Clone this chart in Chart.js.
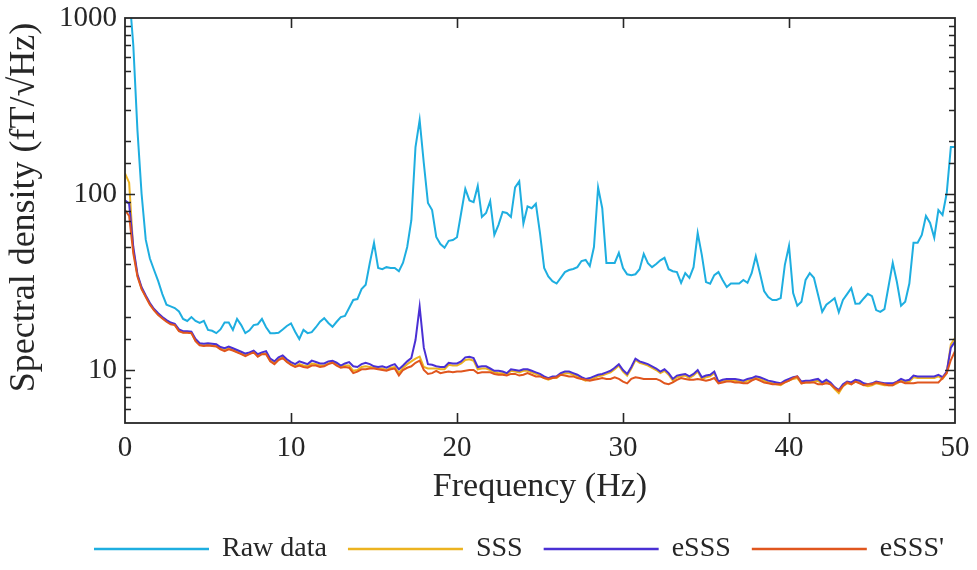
<!DOCTYPE html>
<html>
<head>
<meta charset="utf-8">
<script src="https://cdn.jsdelivr.net/npm/chart.js@4/dist/chart.umd.min.js"></script>
<style>
  html, body { margin: 0; padding: 0; background: #fff; }
  #wrap { width: 977px; height: 570px; }
</style>
</head>
<body>
<div id="wrap"><canvas id="psd" width="977" height="570"></canvas></div>
<script>
(function () {
  "use strict";

  // spectrum bins are 0.25 Hz apart, 0 .. 50 Hz
  const FREQ_STEP = 0.25;

  const seriesNames = ["Raw data", "SSS", "eSSS", "eSSS'"];
  const seriesColors = ["#1eaee0", "#ecb320", "#4a30d4", "#e0561e"];
  const xTickValues = [0, 10, 20, 30, 40, 50];
  const yTickLabels = [10, 100, 1000];
  const yTitle = "Spectral density (fT/\u221AHz)";

  const rawData = [
    3000, 1400, 700, 230, 100, 55, 43, 37, 32, 27, 23.5, 23, 22.5, 21.5, 19.5, 19, 20, 19, 18.5, 19,
    16.9, 16.7, 16.2, 17, 18.6, 18.6, 16.9, 19.5, 18, 16.2, 16.8, 18, 18.2, 19.5, 17.5, 16.2, 16.2, 16.3, 17, 17.8,
    18.4, 16.5, 15, 16.9, 16.2, 16.4, 17.5, 18.8, 19.7, 18.5, 17.6, 18.8, 20, 20.3, 22.5, 25, 25.3, 28.8, 30.5, 40.7,
    52.8, 38, 37.4, 38.4, 38, 38, 36.4, 40.7, 50, 71, 185, 263, 150, 89, 81, 57, 52, 49.5, 54.2, 54.8,
    56.8, 78, 107, 92, 90, 111, 74, 78, 91, 58.6, 66.8, 79, 78, 74, 109, 118, 68, 85, 83, 88,
    60, 38, 34, 32, 31, 33.4, 36, 37, 37.5, 38.4, 41.6, 42.2, 39, 50, 109, 83, 40.6, 40.6, 40.6, 46.3,
    38, 35, 34.6, 35, 37.4, 45.7, 40.5, 38.4, 40, 42, 43.4, 37.4, 36.4, 36, 31.3, 35.5, 33.4, 38.4, 60, 45,
    31.6, 30.9, 34.6, 36, 32.5, 29.6, 31, 31, 31, 32.5, 31.3, 35.5, 44.3, 35.5, 28.1, 26, 25, 25, 25.6, 39.6,
    50.7, 27.4, 23.2, 24.4, 32.5, 35.5, 33.4, 26.8, 21.4, 23.5, 24.5, 25.6, 21.3, 25, 27, 29.2, 23.8, 23.9, 25.5, 27.1,
    26.3, 21.9, 21.4, 22.2, 30, 40.6, 31.6, 23.2, 24.4, 31, 52.8, 52.8, 58.6, 75, 68.5, 56.5, 81, 76, 101, 185,
    185
  ];

  const sssData = [
    131, 116, 48, 34.5, 29, 26.2, 23.7, 22, 20.7, 19.8, 19.0, 18.4, 18.1, 16.7, 16.4, 16.4, 16.3, 14.7, 13.9, 13.8,
    13.9, 13.8, 13.7, 13.2, 13.0, 13.3, 13.0, 12.7, 12.4, 12.1, 12.4, 12.7, 12.0, 12.4, 12.4, 11.3, 10.9, 11.5, 11.8, 11.2,
    10.8, 10.5, 10.8, 10.6, 10.5, 10.9, 10.8, 10.6, 10.6, 10.9, 11.1, 10.8, 10.4, 10.6, 10.6, 9.9, 10.0, 10.4, 10.5, 10.4,
    10.3, 10.2, 10.2, 10.0, 10.3, 10.4, 9.6, 10.3, 10.8, 11.2, 11.6, 11.9, 10.4, 10.2, 10.2, 10.2, 10.1, 10.1, 10.7, 10.6,
    10.6, 10.9, 11.4, 11.5, 11.3, 10.1, 10.2, 10.2, 10.0, 9.7, 9.6, 9.6, 9.4, 9.9, 9.8, 9.7, 9.9, 9.9, 9.7, 9.5,
    9.3, 9.0, 8.8, 9.0, 9.0, 9.4, 9.6, 9.6, 9.4, 9.2, 8.9, 8.7, 8.8, 9.0, 9.2, 9.3, 9.5, 9.7, 10.1, 10.6,
    9.8, 9.3, 10.2, 11.4, 11.0, 10.8, 10.6, 10.3, 10.0, 9.6, 9.9, 9.4, 8.7, 9.1, 9.2, 9.3, 9.0, 9.3, 9.8, 8.9,
    9.1, 9.2, 9.6, 8.5, 8.6, 8.7, 8.7, 8.7, 8.6, 8.5, 8.7, 8.8, 9.0, 8.9, 8.7, 8.5, 8.4, 8.3, 8.2, 8.5,
    8.7, 8.9, 9.0, 8.4, 8.5, 8.5, 8.6, 8.7, 8.3, 8.6, 8.3, 7.8, 7.4, 8.1, 8.4, 8.3, 8.6, 8.5, 8.2, 8.1,
    8.2, 8.4, 8.3, 8.2, 8.2, 8.2, 8.4, 8.7, 8.5, 8.6, 9.1, 9.0, 9.0, 9.0, 9.0, 9.0, 9.2, 8.9, 9.6, 14.0,
    15.2
  ];

  const esssData = [
    92, 88, 50, 35, 29.5, 26.5, 24, 22.2, 21, 20, 19.2, 18.6, 18.3, 17, 16.6, 16.6, 16.5, 15, 14.2, 14.1,
    14.2, 14.1, 14.0, 13.5, 13.3, 13.6, 13.3, 13.0, 12.7, 12.4, 12.6, 12.9, 12.3, 12.6, 12.8, 11.6, 11.2, 11.8, 12.1, 11.5,
    11.1, 10.8, 11.2, 11.0, 10.8, 11.3, 11.1, 10.9, 10.9, 11.2, 11.3, 11.0, 10.6, 10.9, 11.1, 10.5, 10.4, 10.8, 11.0, 10.8,
    10.5, 10.4, 10.5, 10.3, 10.6, 10.8, 10.1, 10.6, 11.2, 11.7, 14.8, 22.9, 13.4, 10.8, 10.7, 10.5, 10.4, 10.4, 11.0, 10.9,
    10.9, 11.2, 11.8, 11.9, 11.7, 10.4, 10.5, 10.5, 10.2, 9.9, 9.9, 9.8, 9.6, 10.1, 10.0, 9.9, 10.1, 10.1, 9.9, 9.7,
    9.5, 9.2, 9.0, 9.2, 9.2, 9.6, 9.8, 9.8, 9.6, 9.4, 9.1, 8.9, 9.0, 9.2, 9.4, 9.5, 9.7, 9.9, 10.3, 10.8,
    10.0, 9.5, 10.4, 11.6, 11.2, 11.0, 10.8, 10.5, 10.2, 9.8, 10.1, 9.6, 8.9, 9.3, 9.4, 9.5, 9.2, 9.5, 10.0, 9.1,
    9.3, 9.4, 9.8, 8.6, 8.8, 8.9, 8.9, 8.9, 8.8, 8.7, 8.9, 9.0, 9.2, 9.1, 8.9, 8.7, 8.6, 8.5, 8.4, 8.7,
    8.9, 9.1, 9.2, 8.6, 8.7, 8.7, 8.8, 8.9, 8.5, 8.8, 8.5, 8.0, 7.7, 8.3, 8.6, 8.5, 8.8, 8.7, 8.4, 8.3,
    8.4, 8.6, 8.5, 8.4, 8.4, 8.4, 8.6, 8.9, 8.7, 8.8, 9.3, 9.2, 9.2, 9.2, 9.2, 9.2, 9.4, 9.1, 9.8, 13.4,
    14.5
  ];

  const esssPrimeData = [
    81, 75, 46, 34, 28.8, 26, 23.5, 21.8, 20.5, 19.6, 18.8, 18.2, 18.0, 16.6, 16.3, 16.3, 16.2, 14.6, 13.8, 13.7,
    13.8, 13.7, 13.6, 13.1, 12.8, 13.1, 12.9, 12.6, 12.3, 12.0, 12.3, 12.6, 11.9, 12.3, 12.3, 11.2, 10.8, 11.4, 11.7, 11.1,
    10.7, 10.4, 10.6, 10.4, 10.3, 10.6, 10.6, 10.4, 10.5, 10.8, 11.0, 10.6, 10.3, 10.4, 10.3, 9.6, 9.8, 10.1, 10.1, 10.2,
    10.2, 10.1, 10.0, 9.9, 10.1, 10.2, 9.3, 10.0, 10.3, 10.5, 11.0, 11.3, 10.0, 9.5, 9.6, 9.9, 9.6, 9.7, 9.8, 9.7,
    9.8, 9.8, 9.9, 10.0, 10.0, 9.6, 9.7, 9.7, 9.7, 9.5, 9.4, 9.4, 9.3, 9.5, 9.5, 9.3, 9.4, 9.6, 9.4, 9.2,
    9.2, 9.0, 8.9, 9.0, 9.1, 9.4, 9.3, 9.2, 9.2, 9.0, 8.9, 8.8, 8.7, 8.8, 8.9, 9.0, 8.9, 8.9, 9.1, 8.9,
    8.6, 8.4, 8.9, 9.1, 9.0, 8.9, 8.9, 8.9, 8.9, 8.7, 8.4, 8.3, 8.5, 8.8, 9.0, 8.9, 8.8, 8.8, 8.9, 8.8,
    8.7, 8.8, 9.0, 8.4, 8.5, 8.6, 8.6, 8.5, 8.5, 8.4, 8.4, 8.7, 8.9, 8.7, 8.5, 8.4, 8.3, 8.3, 8.3, 8.5,
    8.7, 9.0, 9.2, 8.4, 8.5, 8.5, 8.5, 8.3, 8.3, 8.4, 8.3, 7.9, 7.6, 8.1, 8.5, 8.3, 8.6, 8.4, 8.2, 8.3,
    8.3, 8.5, 8.4, 8.3, 8.2, 8.2, 8.5, 8.6, 8.4, 8.4, 8.4, 8.5, 8.5, 8.5, 8.5, 8.5, 8.5, 9.0, 9.6, 11.4,
    12.8
  ];

  const FONT = "'Liberation Serif', 'Times New Roman', serif";
  const INK = "#262626";

  const freqs = rawData.map((_, i) => i * FREQ_STEP);
  const allSeries = [rawData, sssData, esssData, esssPrimeData];

  function toPoints(values) {
    return values.map((v, i) => ({ x: freqs[i], y: v }));
  }

  // MATLAB-style box with inward ticks on all four sides
  const frameTicks = {
    id: "frameTicks",
    afterDatasetsDraw(chart) {
      const { ctx, chartArea: a, scales } = chart;
      const x = scales.x;
      const y = scales.y;
      ctx.save();
      ctx.strokeStyle = INK;
      ctx.lineWidth = 1.6;
      ctx.beginPath();
      xTickValues.forEach((v) => {
        if (v <= x.min || v >= x.max) return;
        const px = Math.round(x.getPixelForValue(v)) + 0.5;
        ctx.moveTo(px, a.bottom);
        ctx.lineTo(px, a.bottom - 10);
        ctx.moveTo(px, a.top);
        ctx.lineTo(px, a.top + 10);
      });
      y.ticks.forEach((t) => {
        if (t.value <= y.min || t.value >= y.max) return;
        const len = yTickLabels.includes(t.value) ? 10 : 6;
        const py = Math.round(y.getPixelForValue(t.value)) + 0.5;
        ctx.moveTo(a.left, py);
        ctx.lineTo(a.left + len, py);
        ctx.moveTo(a.right, py);
        ctx.lineTo(a.right - len, py);
      });
      ctx.stroke();
      ctx.lineWidth = 1.8;
      ctx.strokeRect(a.left, a.top, a.right - a.left, a.bottom - a.top);

      // rotated y title, sitting a little above the plot's mid-height like the source
      ctx.font = `36px ${FONT}`;
      ctx.fillStyle = INK;
      ctx.textAlign = "center";
      ctx.textBaseline = "middle";
      ctx.translate(25, (a.top + a.bottom) / 2 - 13);
      ctx.rotate(-Math.PI / 2);
      ctx.fillText(yTitle, 0, 0);
      ctx.restore();
    },
  };

  // legend row under the axis title, line swatches like the original figure
  const lineLegend = {
    id: "lineLegend",
    afterDraw(chart) {
      const { ctx } = chart;
      const swatch = 115;
      const gapText = 13;
      const gapItem = 21;
      const yMid = 549;
      ctx.save();
      ctx.font = `28px ${FONT}`;
      ctx.textBaseline = "middle";
      ctx.textAlign = "left";
      let total = 0;
      seriesNames.forEach((name, i) => {
        total += swatch + gapText + ctx.measureText(name).width;
        if (i < seriesNames.length - 1) total += gapItem;
      });
      let cx = 519 - total / 2;
      seriesNames.forEach((name, i) => {
        ctx.strokeStyle = seriesColors[i];
        ctx.lineWidth = 2.6;
        ctx.beginPath();
        ctx.moveTo(cx, yMid);
        ctx.lineTo(cx + swatch, yMid);
        ctx.stroke();
        cx += swatch + gapText;
        ctx.fillStyle = INK;
        ctx.fillText(name, cx, yMid);
        cx += ctx.measureText(name).width + gapItem;
      });
      ctx.restore();
    },
  };

  const datasets = allSeries.map((values, i) => ({
    label: seriesNames[i],
    data: toPoints(values),
    borderColor: seriesColors[i],
    backgroundColor: seriesColors[i],
    borderWidth: 2,
    pointRadius: 0,
    tension: 0,
    // last series painted on top, as in the source plot
    order: allSeries.length - i,
  }));

  new Chart(document.getElementById("psd"), {
    type: "line",
    data: { datasets },
    options: {
      responsive: false,
      animation: false,
      devicePixelRatio: 1,
      layout: { padding: { top: 18, right: 22, bottom: 60, left: 0 } },
      plugins: { legend: { display: false }, tooltip: { enabled: false } },
      scales: {
        x: {
          type: "linear",
          min: 0,
          max: 50,
          afterBuildTicks: (s) => { s.ticks = xTickValues.map((v) => ({ value: v })); },
          afterFit: (s) => {
            s.height = 87;
            s.paddingLeft = 0;
            s.paddingRight = 0;
          },
          grid: { display: false, drawTicks: false },
          border: { display: false },
          ticks: { font: { family: FONT, size: 29 }, color: INK, padding: 8, maxRotation: 0 },
          title: {
            display: true,
            text: "Frequency (Hz)",
            font: { family: FONT, size: 34 },
            color: INK,
            padding: { top: 0, bottom: 3 },
          },
        },
        y: {
          type: "logarithmic",
          min: 5,
          max: 1000,
          afterFit: (s) => {
            s.width = 125;
            s.paddingTop = 0;
            s.paddingBottom = 0;
          },
          grid: { display: false, drawTicks: false },
          border: { display: false },
          ticks: {
            autoSkip: false,
            font: { family: FONT, size: 29 },
            color: INK,
            padding: 8,
            callback: (v) => (yTickLabels.includes(v) ? String(v) : ""),
          },
          title: { display: false },
        },
      },
    },
    plugins: [frameTicks, lineLegend],
  });
})();
</script>
</body>
</html>
